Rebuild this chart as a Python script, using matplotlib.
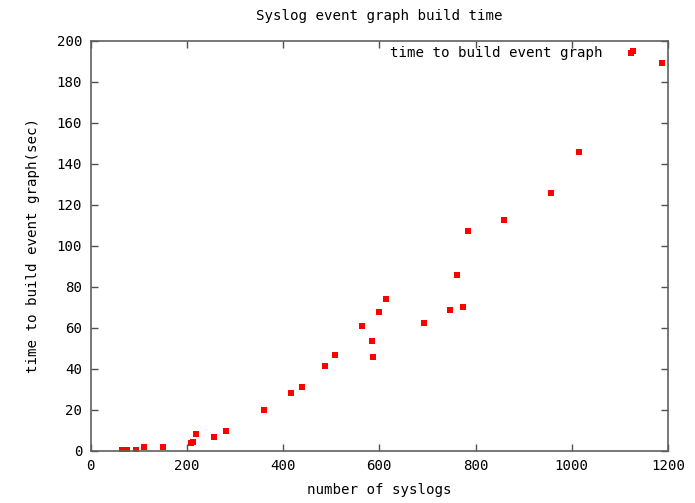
import matplotlib
matplotlib.use("Agg")
import matplotlib.pyplot as plt
from matplotlib.ticker import MultipleLocator

# Data
num_syslogs = [66, 75, 94, 112, 150, 209, 214, 220, 256, 282,
               360, 416, 439, 488, 508, 564, 585, 587, 600, 615,
               693, 747, 761, 774, 785, 859, 956, 1016, 1127, 1188]
build_time = [0.4, 0.4, 0.4, 1.9, 1.9, 3.8, 4.3, 8.1, 6.6, 9.7,
              19.7, 28.1, 31.2, 41.2, 46.5, 60.7, 53.4, 45.9, 67.6, 73.9,
              62.3, 68.7, 85.5, 70.3, 107.2, 112.4, 125.6, 146.0, 195.0, 189.1]

title = "Syslog event graph build time"
xlabel = "number of syslogs"
ylabel = "time to build event graph(sec)"
series_label = "time to build event graph"

FS = 10.2
plt.rcParams['font.family'] = ['DejaVu Sans Mono']
plt.rcParams['font.size'] = FS

W, H = 695, 503
L, R, T, B = 90.5, 668, 41, 450.5
fig = plt.figure(figsize=(W / 100, H / 100), dpi=100)
ax = fig.add_axes([L / W, 1 - B / H, (R - L) / W, (B - T) / H])

ax.plot(num_syslogs, build_time, linestyle='none', marker='s', markersize=4.6,
        color='#ff0000', markeredgewidth=0, label=series_label)

ax.set_xlim(0, 1200)
ax.set_ylim(0, 200)
ax.xaxis.set_major_locator(MultipleLocator(200))
ax.yaxis.set_major_locator(MultipleLocator(20))
ax.tick_params(direction='in', length=5, width=1, color='#505050',
               top=True, right=True, labelsize=FS, colors='black')
ax.tick_params(axis='x', colors='#505050', labelcolor='black', pad=6)
ax.tick_params(axis='y', colors='#505050', labelcolor='black', pad=6)
for s in ax.spines.values():
    s.set_color('#606060')
    s.set_linewidth(1.2)

ax.set_xlabel(xlabel, labelpad=7)
ax.set_ylabel(ylabel, labelpad=12)
fig.text(((L + R) / 2) / W, 1 - 16 / H, title, ha='center', va='center', fontsize=FS)

ax.legend(loc='upper right', frameon=False, markerfirst=False,
          handlelength=1.0, handletextpad=1.5, borderaxespad=0, borderpad=0,
          bbox_to_anchor=((638 - L) / (R - L), 1 - 5.5 / (B - T)), fontsize=FS)

fig.savefig("out.png", dpi=100)
